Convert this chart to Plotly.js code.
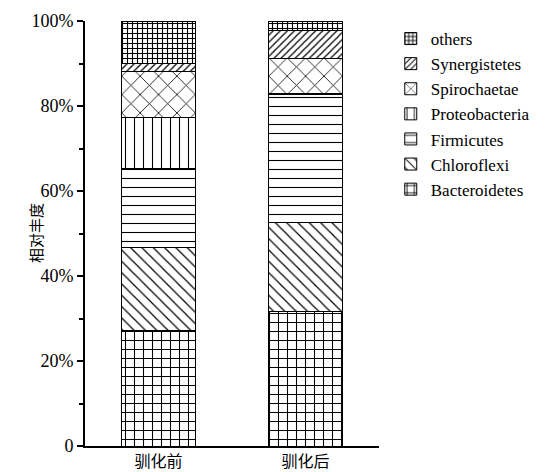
<!DOCTYPE html>
<html>
<head>
<meta charset="utf-8">
<script src="https://cdn.plot.ly/plotly-3.0.1.min.js"></script>
<style>html,body{margin:0;padding:0;background:#fff;}#chart{width:547px;height:472px;}</style>
</head>
<body>
<div id="chart"></div>
<script>
const categories = ["驯化前", "驯化后"];
const seriesNames = ["Bacteroidetes", "Chloroflexi", "Firmicutes", "Proteobacteria", "Spirochaetae", "Synergistetes", "others"];
const bacteroidetes = [27.1, 31.6];
const chloroflexi = [19.6, 20.9];
const firmicutes = [18.5, 30.2];
const proteobacteria = [12.0, 0.3];
const spirochaetae = [11.0, 8.1];
const synergistetes = [1.7, 6.6];
const others = [10.1, 2.3];
const yTickVals = [0, 20, 40, 60, 80, 100];
const yTickText = ["0", "20%", "40%", "60%", "80%", "100%"];
const yTitle = "相对丰度";

const seriesValues = [bacteroidetes, chloroflexi, firmicutes, proteobacteria, spirochaetae, synergistetes, others];
const patterns = [
  {shape: "+", size: 9, solidity: 0.22},
  {shape: "\\", size: 8, solidity: 0.15},
  {shape: "-", size: 9, solidity: 0.12},
  {shape: "|", size: 9, solidity: 0.12},
  {shape: "x", size: 13, solidity: 0.12},
  {shape: "/", size: 5, solidity: 0.25},
  {shape: "+", size: 5, solidity: 0.4}
];
const serif = "Liberation Serif";
const cjk = "Noto Sans CJK SC";

const traces = seriesNames.map((name, i) => ({
  type: "bar",
  name: name,
  x: categories,
  y: seriesValues[i],
  width: 0.5,
  marker: {
    color: "#ffffff",
    line: {color: "#000000", width: 1},
    pattern: Object.assign({fgcolor: "#000000", bgcolor: "#ffffff", fillmode: "replace"}, patterns[i])
  },
  hoverinfo: "skip"
}));

const layout = {
  width: 547,
  height: 472,
  margin: {l: 85, r: 164, t: 21, b: 26, pad: 0},
  paper_bgcolor: "#ffffff",
  plot_bgcolor: "#ffffff",
  barmode: "stack",
  showlegend: true,
  legend: {
    x: 1.04, xanchor: "left", y: 1.0, yanchor: "top",
    traceorder: "reversed",
    font: {family: serif, size: 17, color: "#000"},
    itemwidth: 30,
    bgcolor: "rgba(0,0,0,0)"
  },
  xaxis: {
    type: "category",
    range: [-0.5, 1.5],
    showline: true, linecolor: "#000", linewidth: 2,
    ticks: "",
    showgrid: false, zeroline: false,
    tickfont: {family: cjk, size: 16, color: "#000"},
    fixedrange: true
  },
  yaxis: {
    range: [0, 100],
    tickvals: yTickVals,
    ticktext: yTickText,
    showline: true, linecolor: "#000", linewidth: 2,
    ticks: "outside", ticklen: 6, tickwidth: 2, tickcolor: "#000",
    minor: {dtick: 10, ticks: "outside", ticklen: 4, tickwidth: 2, tickcolor: "#000", showgrid: false},
    showgrid: false, zeroline: false,
    tickfont: {family: serif, size: 18, color: "#000"},
    fixedrange: true
  },
  annotations: [{
    text: yTitle,
    xref: "paper", yref: "paper",
    x: -0.168, y: 0.5,
    xanchor: "center", yanchor: "middle",
    textangle: -90,
    showarrow: false,
    font: {family: cjk, size: 15, color: "#000"}
  }]
};

Plotly.newPlot("chart", traces, layout, {staticPlot: true, displayModeBar: false});
</script>
</body>
</html>
